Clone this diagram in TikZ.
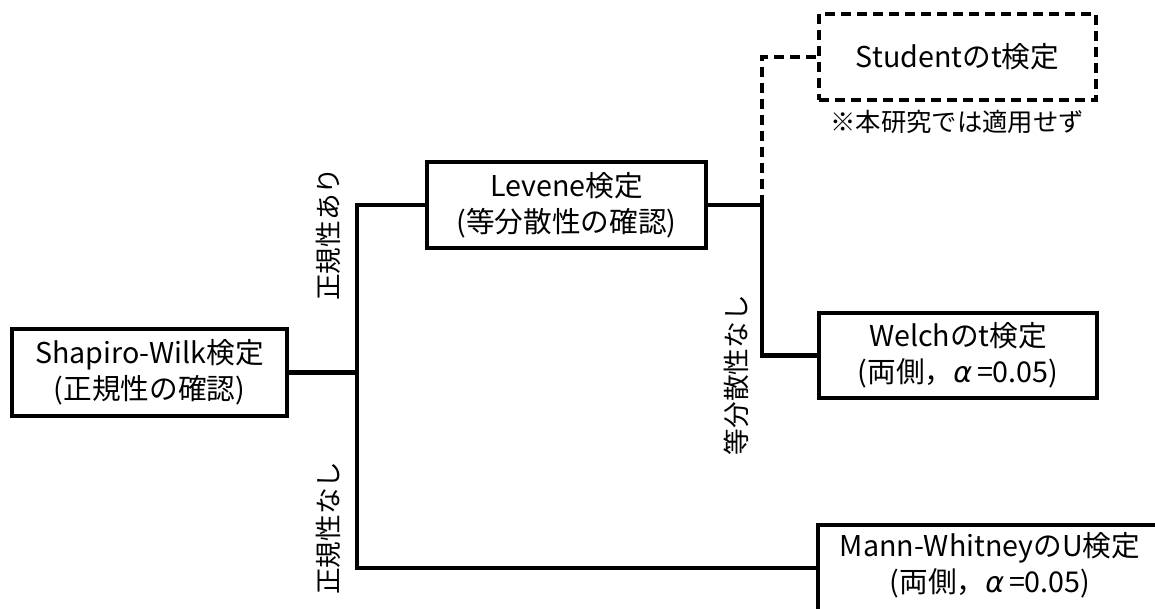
\documentclass[tikz,border=0pt]{standalone}
\usepackage{fontspec}
\setmainfont{Noto Sans CJK JP}
\newfontfamily\alfont{DejaVu Sans}
\newcommand{\myalpha}{{\alfont\itshape α}}
\begin{document}
\begin{tikzpicture}[x=0.75pt,y=-0.75pt,
  txt/.style={font=\fontsize{21.5pt}{27pt}\selectfont, align=center, inner sep=0pt},
  box/.style={txt, draw, line width=3.2pt, minimum width=#1*0.75pt},
  lbl/.style={font=\fontsize{20pt}{24pt}\selectfont, inner sep=0pt, rotate=90},
  link/.style={line width=3.2pt},
  dlink/.style={line width=3.2pt, dash pattern=on 7.5pt off 4.5pt}]
\useasboundingbox (0,0) rectangle (1155,608);
\clip (0,0) rectangle (1155,608);
\fill[white] (0,0) rectangle (1155,608);

\node[box=275, minimum height=65.25pt] (sw) at (149.5,372.5) {Shapiro-Wilk検定\\(正規性の確認)};
\node[box=279, minimum height=64.5pt] (lev) at (566.5,205) {Levene検定\\(等分散性の確認)};
\node[box=277, minimum height=64.5pt, dash pattern=on 7.5pt off 4.5pt] (stu) at (957.5,57) {Studentのt検定};
\node[txt, font=\fontsize{19pt}{24pt}\selectfont] (note) at (957,122) {※本研究では適用せず};
\node[box=278, minimum height=63.75pt] (wel) at (958,355.5) {Welchのt検定\\(両側，\myalpha\,=0.05)};
\node[draw, line width=3.2pt, minimum width=260.25pt, minimum height=75pt, inner sep=0pt] (mwbox) at (991.5,575) {};
\node[txt] (mw) at (990,565) {Mann-WhitneyのU検定\\(両側，\myalpha\,=0.05)};

\coordinate (jtop) at (357,205);
\coordinate (jbot) at (357,568);
\coordinate (j2) at (762,205);

\draw[link] (sw.east) -- (sw.east -| jtop);
\draw[link] (lev.west) -- (jtop) -- (jbot) -- (jbot -| mwbox.west);
\draw[link] (lev.east) -- (j2) -- (j2 |- wel.west) -- (wel.west);
\draw[dlink] (j2) -- (j2 |- stu.west) -- (stu.west);

\node[lbl] (l1) at (328,234) {正規性あり};
\node[lbl] (l2) at (328,528) {正規性なし};
\node[lbl] (l3) at (736,375) {等分散性なし};
\end{tikzpicture}
\end{document}
